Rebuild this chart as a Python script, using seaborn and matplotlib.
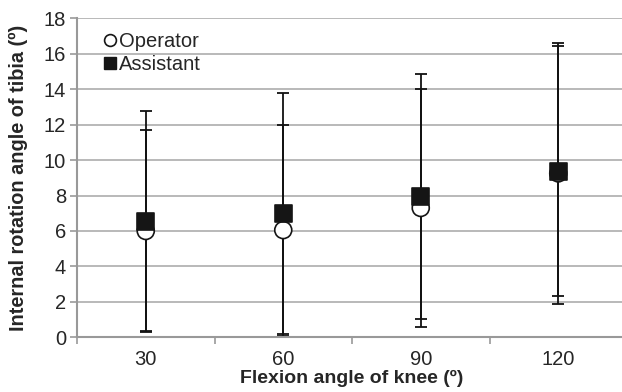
import numpy as np
import pandas as pd
import matplotlib
matplotlib.use("Agg")
import matplotlib.pyplot as plt
import seaborn as sns

# flexion angles (categories) and mean +/- SD of tibial internal rotation
angles = ["30", "60", "90", "120"]
operator_mean = [6.0, 6.05, 7.3, 9.25]
operator_sd = [5.7, 5.95, 6.7, 7.35]
assistant_mean = [6.55, 7.0, 7.95, 9.37]
assistant_sd = [6.2, 6.8, 6.9, 7.05]

sns.set_style("white")
plt.rcParams["font.family"] = ["Liberation Sans", "DejaVu Sans"]

pos = np.arange(len(angles))
df = pd.DataFrame({
    "pos": np.concatenate([pos, pos]),
    "mean": operator_mean + assistant_mean,
    "sd": operator_sd + assistant_sd,
    "group": ["Operator"] * 4 + ["Assistant"] * 4,
})

fig = plt.figure(figsize=(6.22, 3.92), dpi=100)
ax = fig.add_axes([77 / 622, 54.7 / 392, 550 / 622, 319 / 392])

# error bars first so the markers sit on top
for g in ["Operator", "Assistant"]:
    d = df[df["group"] == g]
    ax.errorbar(d["pos"], d["mean"], yerr=d["sd"], fmt="none", ecolor="#111111",
                elinewidth=1.3, capsize=4, capthick=1.3, zorder=2)

sns.scatterplot(data=df, x="pos", y="mean", hue="group", style="group",
                hue_order=["Operator", "Assistant"], style_order=["Operator", "Assistant"],
                palette={"Operator": "white", "Assistant": "#151515"},
                markers={"Operator": "o", "Assistant": "s"},
                s=150, edgecolor="#151515", linewidth=1.2, ax=ax, zorder=3, legend=False)

ax.set_xlim(-0.5, 3.5)
ax.set_ylim(0, 18)
ax.set_yticks(range(0, 19, 2))
ax.yaxis.grid(True, color="#b3b3b3", linewidth=1.3)
ax.set_axisbelow(True)

# excel style: tick marks between categories, labels at the centres
ax.set_xticks(pos - 0.5)
ax.set_xticklabels([])
ax.set_xticks(pos, minor=True)
ax.set_xticklabels(angles, minor=True)
ax.tick_params(axis="x", which="major", length=5, width=1.2, color="#999999", direction="out", bottom=True)
ax.tick_params(axis="x", which="minor", length=0, pad=9, labelsize=14.5)
ax.tick_params(axis="y", length=5, width=1.2, color="#999999", direction="out", left=True, labelsize=14.5, pad=3)

for s in ["top", "right"]:
    ax.spines[s].set_visible(False)
for s in ["left", "bottom"]:
    ax.spines[s].set_color("#999999")
    ax.spines[s].set_linewidth(1.5)

ax.set_xlabel("Flexion angle of knee (º)", fontsize=14, fontweight="bold", labelpad=1)
ax.set_ylabel("Internal rotation angle of tibia (º)", fontsize=14.3, fontweight="bold", labelpad=11)

h1 = plt.Line2D([], [], marker="o", ls="none", markerfacecolor="white", markeredgecolor="#151515",
                markersize=8.5, markeredgewidth=1.2)
h2 = plt.Line2D([], [], marker="s", ls="none", markerfacecolor="#151515", markeredgecolor="#151515",
                markersize=8.5)
ax.legend([h1, h2], ["Operator", "Assistant"], loc="upper left", bbox_to_anchor=(0.034, 0.982),
          frameon=False, fontsize=14.5, handlelength=0.6, handletextpad=0.15, labelspacing=0.2,
          borderaxespad=0)

fig.savefig("out.png", dpi=100)
